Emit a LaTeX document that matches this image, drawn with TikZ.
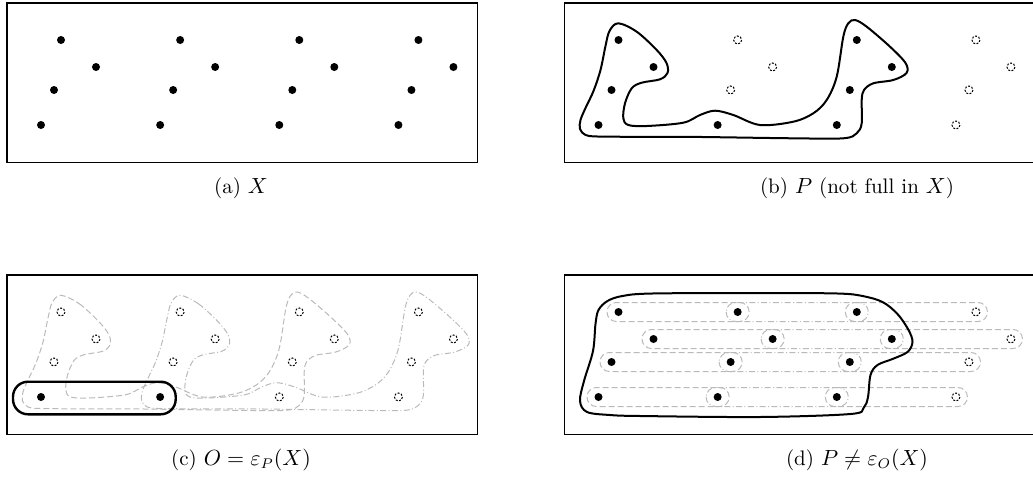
\documentclass[tikz,border=0pt]{standalone}
\usepackage{amsmath}
\begin{document}
\begin{tikzpicture}[x=0.5pt,y=-0.5pt,
  frame/.style={draw=black,line width=0.8pt},
  fulldot/.style={fill=black},
  emptydot/.style={draw=black,line width=0.5pt,dash pattern=on 1pt off 0.75pt},
  hull/.style={draw=black,line width=1pt},
  grayA/.style={draw=black!27,line width=0.5pt,dash pattern=on 3pt off 1.5pt},
  grayB/.style={draw=black!27,line width=0.5pt,dash pattern=on 3pt off 1.2pt on 0.5pt off 1.2pt},
  captxt/.style={font=\fontsize{10.5}{13}\selectfont,inner sep=0pt}
]
\clip (0,0) rectangle (1033,487);
\def\per{119.15}
% a whole group of four points: xoff, yoff, k, style
\newcommand\grp[4]{\foreach \px/\py in {61/40,96/67,54/90,41/125}{\path[#4] ({#1+\px+#3*\per},{#2+\py}) circle[radius=4];}}
% single point: xoff, yoff, k, px, py, style
\newcommand\onept[6]{\path[#6] ({#1+#4+#3*\per},{#2+#5}) circle[radius=4];}
% the set P
\newcommand\drawP[2]{\draw[#1,shift={#2}] plot[smooth cycle,tension=0.55] coordinates {(60.8,23.3) (79.2,31.7) (99.2,50) (109,63) (110,73) (102.5,79.3) (84.2,82.7) (74.2,88.3) (67.5,103.3) (65.8,118.3) (70.8,125) (89.2,126) (125.8,122.7) (142.5,115) (157.5,110.7) (175.8,115) (202.5,125) (235.8,121.7) (255.8,113.3) (269.2,100) (279.2,76.7) (285.8,36.7) (290.8,23.3) (297.5,20) (309.2,26.7) (332.5,46.7) (348,63) (349,73) (335.8,80) (315.8,83.3) (306.5,90) (304.2,100) (304.2,123.3) (299.2,133.3) (285.8,138.3) (235.8,138.3) (135.8,136.9) (80,136.8) (40,136.5) (28,135) (22.5,129) (23,120) (28,108) (36,91) (43,70) (48,46) (52,31)};}

% ---------- frames ----------
\draw[frame] (7,2.7) rectangle (477.3,162.3);
\draw[frame] (564.5,2.7) rectangle (1045,162.3);
\draw[frame] (7,274.7) rectangle (477.3,434.3);
\draw[frame] (564.5,274.7) rectangle (1045,434.3);

% ---------- (a) ----------
\foreach \k in {0,1,2,3}{\grp{0}{0}{\k}{fulldot}}

% ---------- (b) ----------
\drawP{hull}{(557.5,0)}
\grp{557.5}{0}{0}{fulldot}
\grp{557.5}{0}{2}{fulldot}
\onept{557.5}{0}{1}{41}{125}{fulldot}
\onept{557.5}{0}{1}{61}{40}{emptydot}
\onept{557.5}{0}{1}{96}{67}{emptydot}
\onept{557.5}{0}{1}{54}{90}{emptydot}
\grp{557.5}{0}{3}{emptydot}

% ---------- (c) ----------
\drawP{grayA}{(0,272)}
\drawP{grayB}{(\per,272)}
\draw[hull,line width=1.2pt,rounded corners=7.5pt] (13,381.7) rectangle (175.7,414.3);
\foreach \k in {0,1,2,3}{
  \onept{0}{272}{\k}{61}{40}{emptydot}
  \onept{0}{272}{\k}{96}{67}{emptydot}
  \onept{0}{272}{\k}{54}{90}{emptydot}}
\onept{0}{272}{2}{41}{125}{emptydot}
\onept{0}{272}{3}{41}{125}{emptydot}
\onept{0}{272}{0}{41}{125}{fulldot}
\onept{0}{272}{1}{41}{125}{fulldot}

% ---------- (d) ----------
\foreach \px/\py in {61/40,96/67,54/90,41/125}{
  \draw[grayA,rounded corners=4.7pt] ({557.5+\px-11.5},{272+\py-9.5}) rectangle ({557.5+\px+\per+11.5},{272+\py+9.5});
  \draw[grayB,rounded corners=4.7pt] ({557.5+\px+\per-11.5},{272+\py-9.5}) rectangle ({557.5+\px+2*\per+11.5},{272+\py+9.5});
  \draw[grayA,rounded corners=4.7pt] ({557.5+\px+2*\per-11.5},{272+\py-9.5}) rectangle ({557.5+\px+3*\per+11.5},{272+\py+9.5});
}
\draw[hull,shift={(557.5,272)}] plot[smooth cycle,tension=0.55] coordinates {(41,38) (50,29) (65,24) (95,21.5) (202.5,21) (280,21.5) (305,24) (325,30) (340,42) (351,58) (355,70) (350,80) (335,87) (320,93) (313,103) (310.5,125) (306,136) (293,142) (202.5,145) (82.5,144) (52.5,143) (29.5,140) (22.5,129) (26.5,109) (35.5,79) (38,52)};
\grp{557.5}{272}{0}{fulldot}
\grp{557.5}{272}{1}{fulldot}
\grp{557.5}{272}{2}{fulldot}
\grp{557.5}{272}{3}{emptydot}

% ---------- captions ----------
\node[captxt] (capa) at (241,188) {(a) $X$};
\node[captxt] (capb) at (857,188) {(b) $P$ (not full in $X$)};
\node[captxt] (capc) at (241,460) {(c) $O=\varepsilon_P(X)$};
\node[captxt] (capd) at (857,460) {(d) $P\neq\varepsilon_O(X)$};
\end{tikzpicture}
\end{document}
